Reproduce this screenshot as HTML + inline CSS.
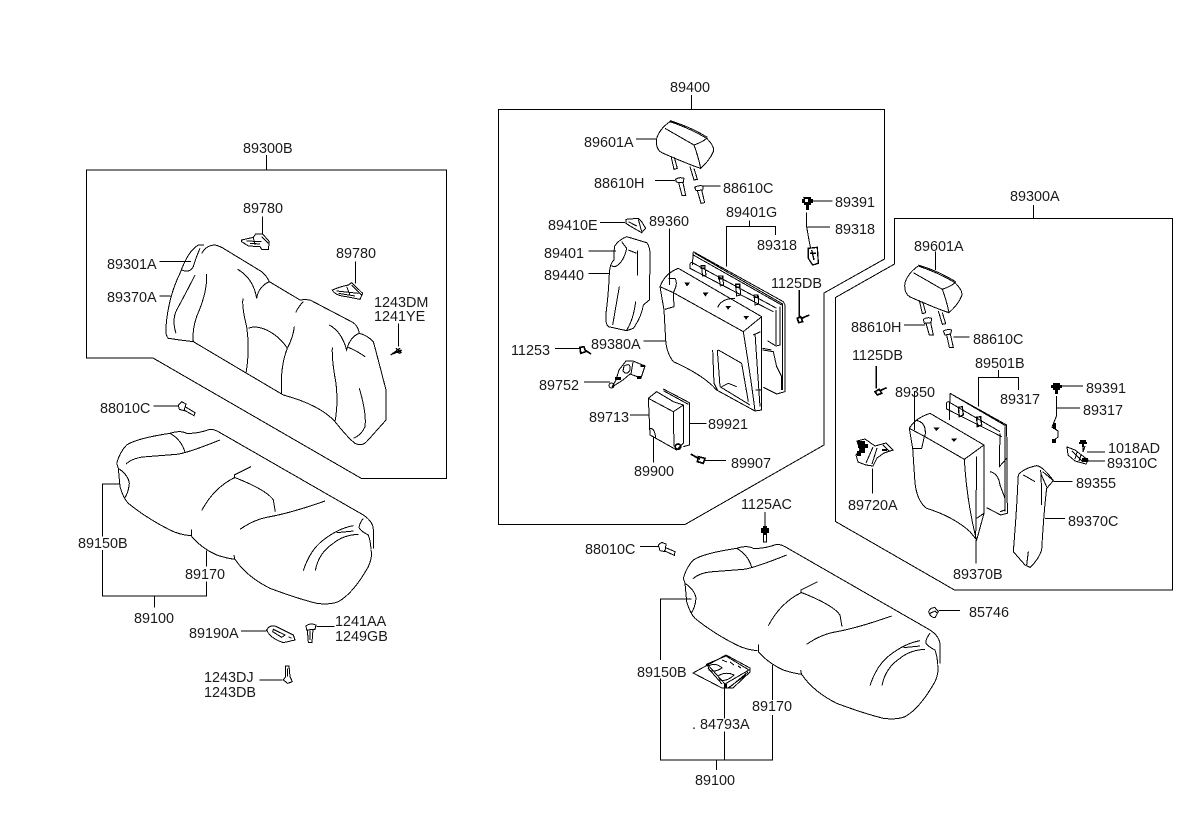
<!DOCTYPE html>
<html><head><meta charset="utf-8"><style>
html,body{margin:0;padding:0;background:#fff}
svg{display:block}
text{font-family:"Liberation Sans",sans-serif;font-size:14.4px;fill:#1a1a1a}
.z{fill:none;stroke:#000;stroke-width:3;shape-rendering:crispEdges}
.r{fill:none;stroke:#000;stroke-width:1;shape-rendering:crispEdges}
.b{fill:#000;stroke:none;shape-rendering:crispEdges}
</style></head><body>
<svg width="1200" height="820" viewBox="0 0 1200 820" xmlns="http://www.w3.org/2000/svg">
<g fill="none" stroke="#000" stroke-width="1" shape-rendering="crispEdges">
<path d="M86.5,170H446.5V478.5H361.5L153,358H86.5Z M266.5,155V170"/>
<path d="M498.5,109.5H884.5V259L824,293V445L685,524.5H498.5Z M691.5,95V109.5"/>
<path d="M894.5,218.5H1172.5V590H954.5L835.5,521.5V297.5L894.5,264Z M1033.5,205V218.5"/>
</g>

<!-- zoom 1 group: rear back -->
<g class="z" transform="translate(80,130) scale(.33333)">
<path d="M340,635L300,630L265,625Q255,615 258,590C262,540 275,480 300,430C315,390 330,360 355,345L372,345 M365,370Q380,345 405,345Q420,348 435,358L545,425Q558,435 568,455L660,510Q675,508 690,510L820,578Q835,590 838,610Q860,615 880,635Q895,690 918,780L918,870L860,935Q845,950 825,940Q805,925 765,875Q720,825 610,795L500,730L340,635"/>
<path d="M360,355Q345,390 340,410Q330,430 305,420 M345,435Q320,485 290,540Q275,570 288,610 M380,432Q382,480 358,540Q335,590 340,635 M473,418Q520,445 530,505Q535,470 568,455 M489,505Q485,530 500,590Q510,660 498,730 M505,595Q525,585 560,600Q600,620 622,655Q640,620 643,590 M622,655Q600,710 605,790 M670,515Q655,530 647,548 M748,585Q785,605 800,660Q810,620 838,610 M805,652Q835,665 855,680 M757,652Q755,690 768,760Q775,820 765,875 M838,775Q860,850 855,890Q845,915 820,925"/>
<path d="M547,260V312 M826,395V460 M955,580V650 M238,394H333 M238,498H272 M220,828H295"/>
<path d="M485,330L520,322L527,312L548,312L568,335L565,358L545,358L540,350L505,348L485,335Z M500,333L545,335 M520,322L525,345 M545,320L565,340 M510,340L540,342"/>
<path d="M757,480Q780,470 805,465L815,458L848,490L840,508L800,500Q765,497 757,480Z M770,483L835,490 M800,470L810,495 M815,465L845,495 M775,490L825,498"/>
<path d="M932,675L960,655 M938,672L965,660 M948,655L965,668 M945,665L962,670" stroke-width="4"/>
<path d="M295,825L305,815L318,822L312,842L298,838Z M315,830L345,848L342,857L312,840"/>
</g>

<!-- seat left -->
<g class="z" transform="translate(90,420) scale(.33333)">
<path d="M80,130Q90,95 110,75Q140,55 240,40Q270,30 290,40Q320,42 360,28Q372,28 385,35L820,285Q850,305 850,330L850,385 M843,390Q848,410 835,440Q790,520 745,545Q720,555 680,550Q620,535 540,505Q470,470 435,418Q410,415 380,405Q335,385 305,350 M303,347Q270,345 240,330Q170,295 115,250Q100,235 90,200L85,145L80,130"/>
<path d="M85,145Q115,165 118,190Q115,220 103,235 M305,328V350 M432,405L435,420 M108,132Q130,112 170,110L260,103Q290,100 390,60 M240,40Q275,60 285,97 M483,140L433,165V175 M433,173Q370,205 335,272 M433,172Q530,210 550,240L556,275 M450,328Q490,300 530,292Q600,280 705,243 M640,452Q660,390 700,360Q745,325 790,317 M676,452Q685,400 730,370Q760,345 805,343 M740,338L790,333 M820,295Q805,315 808,325Q815,335 835,345Q842,365 843,388"/>
<path d="M90,192H38V350 M38,390V528H350V485 M350,440V392 M193,528V562 M453,633H530 M680,619H733 M508,780H578"/>
<path d="M530,630Q540,612 560,620L610,645L615,660L580,668Q540,655 530,630Z M550,628L585,645L575,652L548,635Z M595,650L605,655"/>
<path d="M648,618Q660,608 678,615L675,628L650,630Z M652,630L655,667H666L669,628 M660,632V660"/>
<path d="M587,738H597L600,770L607,785L593,790L580,780L587,770Z M592,745V770"/>
</g>

<!-- seat right -->
<g class="z" transform="translate(656.67,535) scale(.33333)">
<path d="M80,130Q90,95 110,75Q140,55 240,40Q270,30 290,40Q320,42 360,28Q372,28 385,35L820,285Q850,305 850,330L850,385 M843,390Q848,410 835,440Q790,520 745,545Q720,555 680,550Q620,535 540,505Q470,470 435,418Q410,415 380,405Q335,385 305,350 M303,347Q270,345 240,330Q170,295 115,250Q100,235 90,200L85,145L80,130"/>
<path d="M85,145Q115,165 118,190Q115,220 103,235 M305,328V350 M432,405L435,420 M108,132Q130,112 170,110L260,103Q290,100 390,60 M240,40Q275,60 285,97 M483,140L433,165V175 M433,173Q370,205 335,272 M433,172Q530,210 550,240L556,275 M450,328Q490,300 530,292Q600,280 705,243 M640,452Q660,390 700,360Q745,325 790,317 M676,452Q685,400 730,370Q760,345 805,343 M740,338L790,333 M820,295Q805,315 808,325Q815,335 835,345Q842,365 843,388"/>
</g>
<g class="z" transform="translate(640,530) scale(.33333)">
<path d="M155,207H62V390 M62,445V690H397V555 M397,510V405 M253,690V605 M253,565V475 M229,690V720 M0,50H55 M895,242H960"/>
<path d="M55,45L65,37L78,42L75,65L60,62Z M75,52L105,65L103,76L72,62"/>
<path d="M866,245Q870,232 885,233L895,245L885,263Q870,262 866,245Z M870,250L885,243L893,250"/>
</g>
<!-- 84793A -->
<g class="r">
<path d="M693,673L726,655L750,668L750,672L733,688L722,688Z M707,664L726,656L749,670L725,684Z M748,672L730,687 M746,675L728,688"/>
<path d="M708,666Q716,662 722,668Q714,673 709,670Z M718,676Q726,671 734,675Q727,682 720,680Z M708,668L722,684 M722,660L727,662 M730,662L734,665 M738,666L741,668"/>
</g>
<path class="b" d="M724,684h3v4h-3z M706,664h3v2h-3z"/>

<!-- 1125AC -->
<g class="r">
<path d="M765,512V527 M763.5,534V542H766.5V534"/>
</g>
<path class="b" d="M763,526h4v2h2v5h-2v2h-4v-2h-2v-5h2z"/>

<!-- zoom 2 group: 89400 -->
<g class="z" transform="translate(490,100) scale(.33333)">
<path d="M500,115Q510,85 540,65Q600,85 650,115Q675,140 670,155Q660,180 632,205Q625,170 612,135Q560,105 525,85 M612,135Q640,125 650,115 M500,115Q495,150 520,160Q600,195 632,205 M540,62Q600,80 652,112"/>
<path d="M543,168L552,208L562,205L553,172 M600,200L612,240L622,238L612,205 M438,117H498"/>
<path d="M495,241H555 M557,238Q568,230 582,235L580,246Q568,250 558,245Z M566,248L576,286L587,286L579,248"/>
<path d="M640,258H692 M614,262Q625,255 640,258L638,270L618,272Z M622,272L633,310L644,308L635,270"/>
<path d="M965,303H1028 M952,381H1020 M950,338V380L955,410L962,445"/>
<path d="M955,445L982,442L985,490L968,495L955,475Z M960,460H978 M965,450L972,480" stroke-width="4"/>
<path d="M408,358L445,355L455,365L467,385L455,398L420,378L408,370Z M330,367H405 M445,358L455,395 M415,365L440,378"/>
<path d="M538,385V555"/>
<path d="M373,440Q385,420 410,410L470,428Q482,440 480,480L478,600L460,615Q455,650 430,685L410,692L355,680Q345,670 348,640Q355,590 358,520Q360,490 372,480Z M364,498L375,500Q400,490 410,445L395,425 M415,450L440,460 M443,452V527 M388,560L368,675 M437,605Q430,660 410,690 M295,453H378 M295,520H358"/>
<!-- body -->
<path d="M510,560Q525,520 565,505L815,650V930L795,933L680,870Q640,825 550,785Q530,760 527,720L522,630L510,560Z M510,560L550,578L760,695L815,650 M760,695Q785,850 795,933 M550,578L552,620L525,628 M550,578Q565,550 555,535L535,535 M683,622Q695,595 735,595"/>
<path d="M668,750L672,850L682,870 M682,750L690,860 M685,750L755,790L775,905 M690,860L780,915 M715,850L740,860 M695,860L715,850 M790,705L812,695 M795,700L810,920 M797,870H815"/>
<path d="M587,550H596L591,556Z M642,580H651L646,586Z M710,620H719L714,626Z M764,650H773L768,656Z" stroke-width="4"/>
<!-- frame -->
<path d="M610,455L880,605L885,615V875L860,882L820,862 M610,455L607,495 M600,490L605,487L860,625 M615,460L878,612 M610,465L875,615 M600,490V505L830,625L850,635 M877,612V870 M870,620V735L858,738L832,722 M858,630V735 M818,750L850,755L860,800L875,830V870 M818,745L845,750"/>
<path d="M635,505L645,503L648,525L638,528Z M688,535L698,533L701,555L691,558Z M738,563L750,560L752,585L740,588Z M793,592L805,590L806,612L795,615Z"/>
<path d="M633,497h12v8h-12z M686,528h12v8h-12z M737,553h12v8h-12z M792,585h11v7h-11z" stroke-width="4"/>
<path d="M710,500V380H857V405 M779,362V380"/>
<path d="M928,570V650 M922,655L932,650L938,665L926,668Z M935,655L958,645" stroke-width="5"/>
<path d="M195,745H270 M460,723H528 M283,846H360 M420,945H475 M598,970H650 M491,1010V1088 M645,1081H708"/>
<path d="M270,742L282,740L287,755L272,760Z M285,750L303,762" stroke-width="5"/>
<path d="M475,895L500,875L550,905L580,915V1030L560,1050L480,1005Z M475,895L550,935L580,915 M550,935L552,1040 M480,985Q495,985 497,1015"/>
<path d="M520,867L598,908V1035L580,1040 M520,872L595,913"/>
<circle cx="564" cy="1040" r="8" stroke-width="5"/>
<path d="M602,1062L630,1078 M625,1070L645,1075L640,1090L622,1085Z" stroke-width="5"/>
</g>
<!-- 89391 left head -->
<path class="b" d="M803,197h8v2h2v4h-2v2h-2v5h-3v-5h-2v-2h-2v-4h2z"/>
<rect x="805" y="199" width="3" height="3" fill="#fff" shape-rendering="crispEdges"/>
<!-- 89752 -->
<g class="r">
<path d="M584,382H609 M626,361L633,361L645,366L641,378L630,374L623,380L612,387L616,380L619,370Z M624,366Q631,362 630,370Q627,376 623,371Z M645,366L640,366 M633,362L631,374"/>
<circle cx="611.5" cy="385.5" r="2.5"/>
</g>
<path class="b" d="M615,377h6v3h-6z M641,365h4v2h-4z M637,376h4v3h-4z"/>

<!-- zoom 3 group: 89300A -->
<g class="z" transform="translate(830,210) scale(.33333)">
<g transform="translate(-275,103)">
<path d="M500,115Q510,85 540,65Q600,85 650,115Q675,140 670,155Q660,180 632,205Q625,170 612,135Q560,105 525,85 M612,135Q640,125 650,115 M500,115Q495,150 520,160Q600,195 632,205 M540,62Q600,80 652,112"/>
<path d="M543,168L552,208L562,205L553,172 M600,200L612,240L622,238L612,205"/>
</g>
<path d="M316,125V180"/>
<path d="M222,345H285 M280,328Q292,320 305,325L303,338L283,340Z M288,340L298,375H310L302,338"/>
<path d="M370,381H418 M340,363Q352,356 365,360L362,372L345,375Z M350,375L358,412H370L361,372"/>
<path d="M139,468V535 M135,545L148,538L155,550L142,555Z M150,542L170,533" stroke-width="5"/>
<path d="M253,545V660 M445,590V503H566V540 M506,480V503"/>
<path d="M360,550L530,645L532,910L512,915L470,893 M360,550L358,630 M350,577L355,575L510,665 M365,553L528,648 M350,577V597L515,680 M525,650V905 M510,670L508,770L530,745 M480,785Q505,790 510,825L525,865V900L510,905"/>
<path d="M385,592L397,590L400,615L388,620Z M440,622L452,620L455,645L442,650Z" stroke-width="4"/>
<path d="M238,655Q255,625 300,610L462,705V910L440,990L420,965Q370,920 290,895Q262,875 255,820L248,715L238,655Z M238,655L285,680L403,748L462,705 M403,748Q410,870 438,985 M440,740L437,985 M462,910L440,925 M285,680Q290,645 270,635L258,630 M248,715L275,715L283,680"/>
<path d="M315,655H324L319,660Z M368,688H377L372,693Z" stroke-width="4"/>
<path d="M438,990V1060 M127,775V850"/>
<path d="M565,795Q580,775 620,767Q640,770 670,812L650,835Q642,900 635,1020Q625,1050 600,1072L585,1065L550,1025Q560,900 563,830Z M580,795L615,815 M632,780Q635,830 635,885 M595,1025L590,1065 M632,790L652,835 M638,785L670,812 M670,814H727 M645,926H705"/>
</g>
<!-- 89720A -->
<g class="r">
<path d="M857,441L865,439L875,446L886,443L893,450L884,453L877,458L873,466L866,465L858,462L856,455L860,450Z M873,447L866,463 M877,448L872,464 M883,445L889,451"/>
</g>
<path class="b" d="M858,441h7v3h3v4h-3v5h-4v3h-4v-5h3v-3h-2z M882,449h5v2h-5z"/>
<!-- right wire, screw, clip -->
<g class="r">
<path d="M1056.5,396V416L1052,427L1058,431L1058,437L1053,441 M1057,408H1080 M1059,386H1083"/>
<path d="M1083,446V452L1085,446 M1087,452H1105 M1087,461H1105"/>
<path d="M1067,447L1075,450L1088,460L1086,464L1075,461L1068,455Z M1072,451L1083,462 M1077,452L1075,459 M1081,455L1079,461"/>
</g>
<path class="b" d="M1053,383h7v2h2v3h-2v2h-2v4h-3v-4h-2v-2h-2v-3h2z M1053,423h3v6h-3z M1052,439h4v4h-4z M1080,440h6v2h1v2h-3v3h-2v-3h-3v-2h1z M1082,458h6v4h-6z"/>

<text x="243" y="153">89300B</text>
<text x="243" y="213">89780</text>
<text x="336" y="258">89780</text>
<text x="107" y="269">89301A</text>
<text x="107" y="302">89370A</text>
<text x="374" y="307">1243DM</text>
<text x="374" y="321">1241YE</text>
<text x="100" y="413">88010C</text>
<text x="78" y="548">89150B</text>
<text x="185" y="579">89170</text>
<text x="134" y="623">89100</text>
<text x="189" y="638">89190A</text>
<text x="335" y="626">1241AA</text>
<text x="335" y="641">1249GB</text>
<text x="204" y="682">1243DJ</text>
<text x="204" y="697">1243DB</text>
<text x="670" y="92">89400</text>
<text x="584" y="147">89601A</text>
<text x="594" y="188">88610H</text>
<text x="723" y="193">88610C</text>
<text x="835" y="207">89391</text>
<text x="726" y="217">89401G</text>
<text x="548" y="230">89410E</text>
<text x="649" y="226">89360</text>
<text x="835" y="234">89318</text>
<text x="757" y="250">89318</text>
<text x="544" y="258">89401</text>
<text x="544" y="280">89440</text>
<text x="771" y="288">1125DB</text>
<text x="511" y="355">11253</text>
<text x="591" y="349">89380A</text>
<text x="539" y="390">89752</text>
<text x="589" y="422">89713</text>
<text x="708" y="429">89921</text>
<text x="634" y="476">89900</text>
<text x="731" y="468">89907</text>
<text x="741" y="509">1125AC</text>
<text x="585" y="554">88010C</text>
<text x="1010" y="201">89300A</text>
<text x="914" y="251">89601A</text>
<text x="851" y="332">88610H</text>
<text x="973" y="344">88610C</text>
<text x="852" y="360">1125DB</text>
<text x="975" y="368">89501B</text>
<text x="895" y="397">89350</text>
<text x="1086" y="393">89391</text>
<text x="1000" y="404">89317</text>
<text x="1083" y="415">89317</text>
<text x="1108" y="453">1018AD</text>
<text x="1107" y="468">89310C</text>
<text x="1076" y="488">89355</text>
<text x="848" y="510">89720A</text>
<text x="1068" y="526">89370C</text>
<text x="953" y="579">89370B</text>
<text x="969" y="617">85746</text>
<text x="637" y="677">89150B</text>
<text x="752" y="711">89170</text>
<text x="692" y="729">. 84793A</text>
<text x="695" y="785">89100</text>
</svg>
</body></html>
